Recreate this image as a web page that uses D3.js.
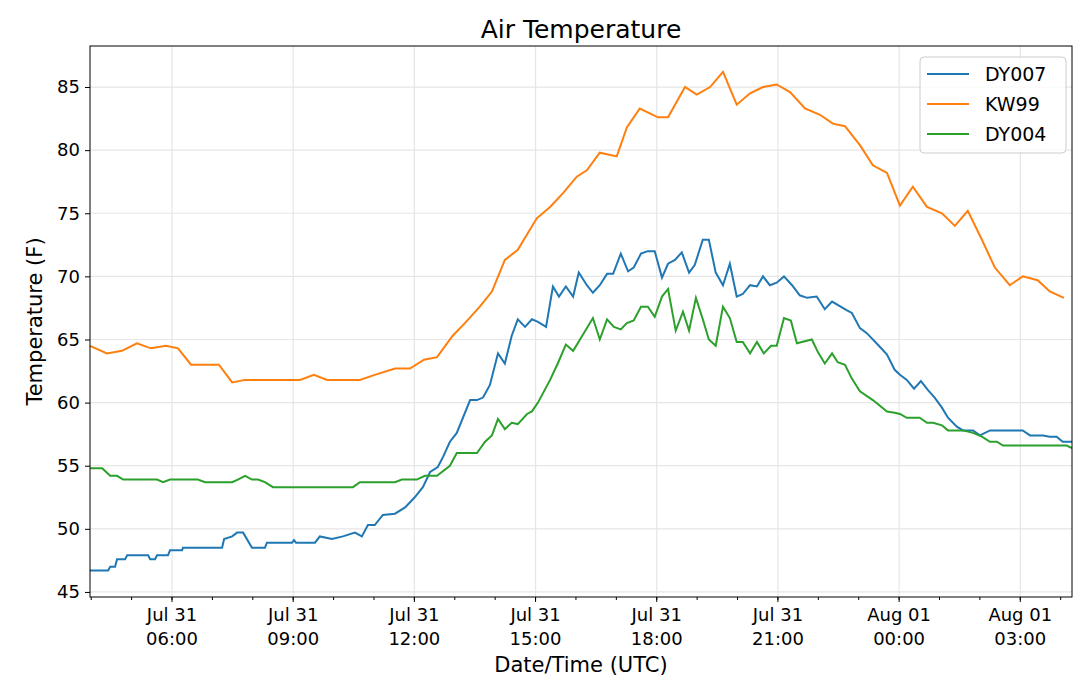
<!DOCTYPE html>
<html><head><meta charset="utf-8">
<script src="https://cdn.jsdelivr.net/npm/d3@7"></script>
<style>body{margin:0;background:#fff}text{font-family:"DejaVu Sans",sans-serif;fill:#000}</style>
</head><body><svg width="1080" height="700"></svg>
<script>
// hours since Jul 31 00:00 UTC, temperature (F)
var dy007 = [[3.97,46.7],[4.42,46.7],[4.47,47.0],[4.59,47.0],[4.64,47.6],[4.84,47.6],[4.89,47.9],[5.41,47.9],[5.46,47.6],[5.58,47.6],[5.63,47.9],[5.90,47.9],[5.95,48.3],[6.25,48.3],[6.27,48.5],[7.24,48.5],[7.29,49.2],[7.49,49.4],[7.61,49.7],[7.76,49.7],[7.98,48.5],[8.30,48.5],[8.35,48.9],[8.97,48.9],[9.02,49.1],[9.07,48.9],[9.54,48.9],[9.66,49.4],[9.96,49.2],[10.23,49.4],[10.53,49.7],[10.70,49.4],[10.85,50.3],[11.02,50.3],[11.22,51.1],[11.52,51.2],[11.77,51.7],[12.01,52.5],[12.21,53.3],[12.39,54.5],[12.58,54.9],[12.71,55.7],[12.88,56.9],[13.05,57.6],[13.38,60.2],[13.55,60.2],[13.70,60.4],[13.87,61.4],[14.07,63.9],[14.24,63.1],[14.41,65.3],[14.56,66.6],[14.74,66.0],[14.91,66.6],[15.06,66.4],[15.26,66.0],[15.43,69.2],[15.58,68.4],[15.75,69.2],[15.93,68.4],[16.07,70.3],[16.27,69.3],[16.42,68.7],[16.59,69.3],[16.77,70.2],[16.92,70.2],[17.11,71.8],[17.29,70.4],[17.43,70.7],[17.61,71.8],[17.78,72.0],[17.95,72.0],[18.13,69.9],[18.28,71.0],[18.45,71.3],[18.62,71.9],[18.80,70.3],[18.94,70.9],[19.14,72.9],[19.29,72.9],[19.46,70.3],[19.64,69.3],[19.81,71.0],[19.98,68.4],[20.13,68.6],[20.31,69.3],[20.48,69.2],[20.63,70.0],[20.80,69.3],[20.97,69.5],[21.15,70.0],[21.35,69.3],[21.54,68.5],[21.72,68.3],[21.96,68.4],[22.16,67.4],[22.34,68.0],[22.71,67.3],[22.83,67.1],[23.03,65.9],[23.20,65.5],[23.47,64.6],[23.70,63.8],[23.89,62.6],[24.02,62.2],[24.19,61.8],[24.37,61.1],[24.54,61.7],[24.71,61.0],[24.88,60.4],[25.06,59.6],[25.21,58.8],[25.43,58.1],[25.58,57.8],[25.83,57.8],[26.00,57.4],[26.25,57.8],[27.06,57.8],[27.24,57.4],[27.56,57.4],[27.73,57.3],[27.90,57.3],[28.05,56.9],[28.28,56.9]];
var kw99 = [[3.97,64.5],[4.39,63.9],[4.76,64.1],[5.13,64.7],[5.48,64.3],[5.85,64.5],[6.15,64.3],[6.47,63.0],[7.16,63.0],[7.49,61.6],[7.81,61.8],[9.17,61.8],[9.51,62.2],[9.84,61.8],[10.65,61.8],[11.02,62.2],[11.52,62.7],[11.89,62.7],[12.24,63.4],[12.56,63.6],[12.95,65.3],[13.25,66.3],[13.62,67.6],[13.92,68.8],[14.24,71.3],[14.56,72.1],[15.03,74.6],[15.36,75.5],[15.68,76.6],[16.02,77.9],[16.27,78.4],[16.59,79.8],[17.01,79.5],[17.26,81.8],[17.58,83.3],[18.03,82.6],[18.28,82.6],[18.70,85.0],[18.99,84.4],[19.32,85.0],[19.64,86.2],[19.98,83.6],[20.31,84.5],[20.63,85.0],[20.97,85.2],[21.30,84.6],[21.67,83.3],[22.04,82.8],[22.36,82.1],[22.66,81.9],[23.03,80.4],[23.35,78.8],[23.70,78.2],[24.02,75.6],[24.34,77.1],[24.69,75.5],[25.06,75.0],[25.38,74.0],[25.70,75.2],[26.05,72.9],[26.37,70.7],[26.74,69.3],[27.06,70.0],[27.43,69.7],[27.73,68.8],[28.08,68.3]];
var dy004 = [[3.97,54.8],[4.27,54.8],[4.47,54.2],[4.64,54.2],[4.79,53.9],[5.63,53.9],[5.78,53.7],[5.95,53.9],[6.64,53.9],[6.82,53.7],[7.49,53.7],[7.63,53.9],[7.81,54.2],[7.98,53.9],[8.13,53.9],[8.30,53.7],[8.50,53.3],[10.48,53.3],[10.65,53.7],[11.52,53.7],[11.69,53.9],[12.06,53.9],[12.26,54.2],[12.56,54.2],[12.88,55.0],[13.05,56.0],[13.55,56.0],[13.75,56.9],[13.92,57.4],[14.07,58.7],[14.24,57.9],[14.41,58.4],[14.56,58.3],[14.79,59.1],[14.91,59.3],[15.06,60.0],[15.36,61.8],[15.55,63.1],[15.75,64.6],[15.93,64.1],[16.10,65.0],[16.42,66.7],[16.59,65.0],[16.77,66.6],[16.94,66.0],[17.11,65.8],[17.26,66.3],[17.43,66.5],[17.61,67.6],[17.78,67.6],[17.95,66.8],[18.13,68.4],[18.28,69.0],[18.47,65.7],[18.65,67.2],[18.80,65.7],[18.97,68.3],[19.14,66.6],[19.29,65.0],[19.46,64.5],[19.64,67.6],[19.81,66.7],[19.98,64.8],[20.13,64.8],[20.31,63.9],[20.48,64.8],[20.65,63.9],[20.83,64.5],[20.97,64.5],[21.15,66.7],[21.32,66.5],[21.47,64.7],[21.84,65.0],[21.99,64.0],[22.16,63.1],[22.34,63.9],[22.48,63.2],[22.66,63.0],[22.83,61.9],[23.03,60.9],[23.35,60.2],[23.70,59.3],[23.89,59.2],[24.02,59.1],[24.19,58.8],[24.51,58.8],[24.69,58.4],[24.84,58.4],[25.06,58.2],[25.21,57.8],[25.58,57.8],[25.83,57.6],[26.05,57.3],[26.25,56.9],[26.42,56.9],[26.57,56.6],[28.15,56.6],[28.28,56.4]];
var seriesNames = ["DY007", "KW99", "DY004"];
var seriesData = [dy007, kw99, dy004];
var colours = ["#1f77b4", "#ff7f0e", "#2ca02c"];
var yTicks = [45, 50, 55, 60, 65, 70, 75, 80, 85];

var base = Date.UTC(2019, 6, 31);
function toDate(h) { return new Date(base + h * 3600000); }

var pLeft = 90, pRight = 1072, pTop = 46, pBottom = 597;
var svg = d3.select("svg");

var x = d3.scaleUtc().domain([toDate(3.97), toDate(28.28)]).range([pLeft, pRight]);
var y = d3.scaleLinear().domain([44.6, 88.25]).range([pBottom, pTop]);

var majorTicks = d3.utcHour.every(3).range(toDate(4), toDate(28.3));
var minorTicks = d3.utcHour.every(1).range(toDate(4), toDate(28.3));

// grid
svg.append("g").selectAll("line").data(majorTicks).enter().append("line")
   .attr("x1", d => x(d)).attr("x2", d => x(d)).attr("y1", pTop).attr("y2", pBottom)
   .attr("stroke", "#e6e6e6").attr("stroke-width", 1.2);
svg.append("g").selectAll("line").data(yTicks).enter().append("line")
   .attr("x1", pLeft).attr("x2", pRight).attr("y1", d => y(d)).attr("y2", d => y(d))
   .attr("stroke", "#e6e6e6").attr("stroke-width", 1.2);

// lines
var line = d3.line().x(d => x(toDate(d[0]))).y(d => y(d[1]));
seriesData.forEach(function(s, i) {
  svg.append("path").datum(s).attr("d", line).attr("fill", "none")
     .attr("stroke", colours[i]).attr("stroke-width", 2);
});

// frame
svg.append("rect").attr("x", pLeft).attr("y", pTop).attr("width", pRight - pLeft).attr("height", pBottom - pTop)
   .attr("fill", "none").attr("stroke", "#000").attr("stroke-width", 1);

// y axis
var yAxis = d3.axisLeft(y).tickValues(yTicks).tickSize(5).tickPadding(5);
var gy = svg.append("g").attr("transform", "translate(" + pLeft + ",0)").call(yAxis);
gy.select(".domain").remove();
gy.selectAll("text").style("font-size", "18px").style("font-family", "DejaVu Sans");

// x axis ticks
svg.append("g").selectAll("line").data(minorTicks).enter().append("line")
   .attr("x1", d => x(d)).attr("x2", d => x(d)).attr("y1", pBottom).attr("y2", pBottom + 3)
   .attr("stroke", "#000");
svg.append("g").selectAll("line").data(majorTicks).enter().append("line")
   .attr("x1", d => x(d)).attr("x2", d => x(d)).attr("y1", pBottom).attr("y2", pBottom + 5)
   .attr("stroke", "#000");
var fmt1 = d3.utcFormat("%b %d"), fmt2 = d3.utcFormat("%H:%M");
var xl = svg.append("g").selectAll("text").data(majorTicks).enter().append("text")
   .attr("text-anchor", "middle").style("font-size", "18px");
xl.append("tspan").attr("x", d => x(d)).attr("y", 621).text(d => fmt1(d));
xl.append("tspan").attr("x", d => x(d)).attr("y", 645).text(d => fmt2(d));

// labels
svg.append("text").attr("x", (pLeft + pRight) / 2).attr("y", 38).attr("text-anchor", "middle")
   .style("font-size", "25px").text("Air Temperature");
svg.append("text").attr("x", (pLeft + pRight) / 2).attr("y", 672).attr("text-anchor", "middle")
   .style("font-size", "21px").text("Date/Time (UTC)");
svg.append("text").attr("transform", "translate(42," + ((pTop + pBottom) / 2) + ") rotate(-90)")
   .attr("text-anchor", "middle").style("font-size", "21px").text("Temperature (F)");

// legend
var lg = svg.append("g").attr("transform", "translate(920,57)");
lg.append("rect").attr("width", 146).attr("height", 96).attr("rx", 4)
  .attr("fill", "#fff").attr("fill-opacity", 0.8).attr("stroke", "#ccc");
seriesNames.forEach(function(n, i) {
  lg.append("line").attr("x1", 7).attr("x2", 49).attr("y1", 17 + i * 30).attr("y2", 17 + i * 30)
    .attr("stroke", colours[i]).attr("stroke-width", 2);
  lg.append("text").attr("x", 65).attr("y", 24 + i * 30).style("font-size", "19px").text(n);
});
</script></body></html>
